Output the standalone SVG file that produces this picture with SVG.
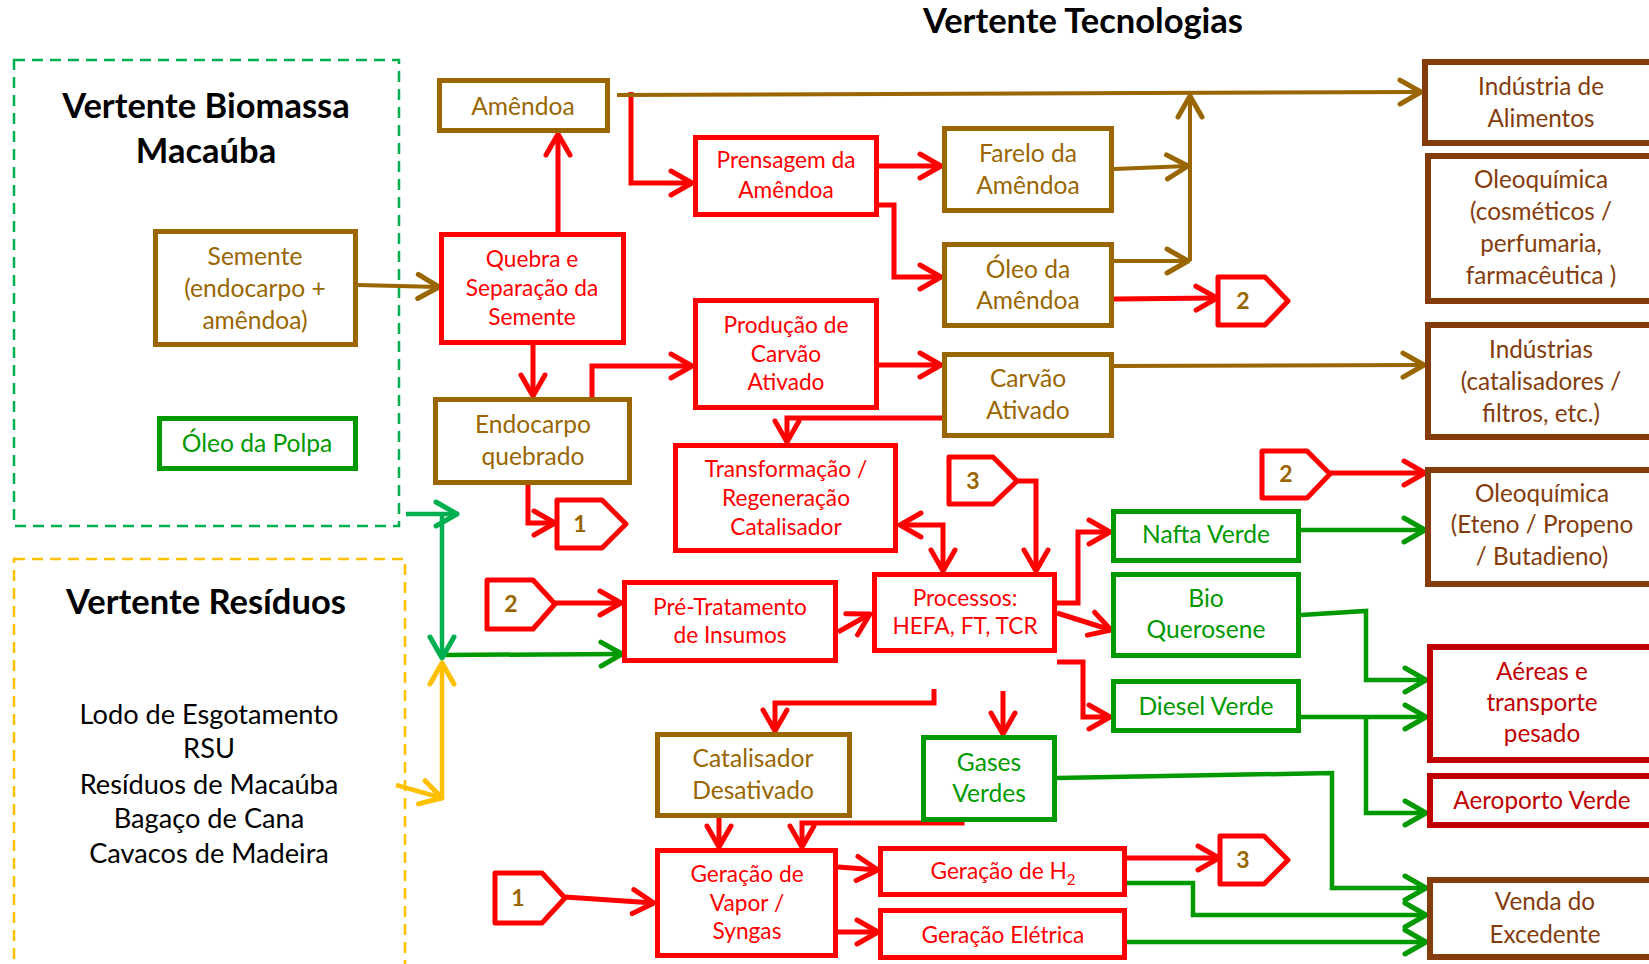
<svg xmlns="http://www.w3.org/2000/svg" width="1649" height="964" viewBox="0 0 1649 964">
<defs>
<style>
.bx{fill:#fff;stroke-width:5}
.bR{stroke-width:6}
.r{stroke:#FF0000}.b{stroke:#996600}.g{stroke:#009900}.br{stroke:#843C0C}.dr{stroke:#C00000}
text{font-family:Lato,'Liberation Sans',sans-serif;text-anchor:middle}
.tr{fill:#FF0000;font-size:22.7px}
.tb{fill:#996600;font-size:24.6px}
.tg{fill:#009900;font-size:24.6px}
.tbr{fill:#843C0C;font-size:24.3px}
.tdr{fill:#C00000;font-size:24.3px}
.hd{fill:#000;font-size:34.5px;font-weight:bold}
.lst{fill:#000;font-size:27.2px}
.tag{fill:#fff;stroke:#FF0000;stroke-width:5;stroke-linejoin:round}
.tn{fill:#996600;font-size:23px;font-weight:bold}
.c{fill:none;stroke-width:5;stroke-linejoin:miter}
.cr{stroke:#FF0000;marker-end:url(#aR)}
.cb{stroke:#996600;stroke-width:4;marker-end:url(#aB)}
.cg{stroke:#009900;stroke-width:4.5;marker-end:url(#aG)}
.cl{stroke:#00B050;stroke-width:4.5;marker-end:url(#aL)}
.cy{stroke:#FFC000;stroke-width:4.5;marker-end:url(#aY)}
</style>
<marker id="aR" markerUnits="userSpaceOnUse" markerWidth="30" markerHeight="32" viewBox="-26 -16 30 32" refX="0" refY="0" orient="auto-start-reverse"><path d="M-21,-12 L0,0 L-21,12" fill="none" stroke="#FF0000" stroke-width="5" stroke-linecap="round" stroke-linejoin="round"/></marker>
<marker id="aB" markerUnits="userSpaceOnUse" markerWidth="30" markerHeight="32" viewBox="-26 -16 30 32" refX="0" refY="0" orient="auto-start-reverse"><path d="M-21,-12 L0,0 L-21,12" fill="none" stroke="#996600" stroke-width="5" stroke-linecap="round" stroke-linejoin="round"/></marker>
<marker id="aG" markerUnits="userSpaceOnUse" markerWidth="30" markerHeight="32" viewBox="-26 -16 30 32" refX="0" refY="0" orient="auto-start-reverse"><path d="M-21,-12 L0,0 L-21,12" fill="none" stroke="#009900" stroke-width="5" stroke-linecap="round" stroke-linejoin="round"/></marker>
<marker id="aL" markerUnits="userSpaceOnUse" markerWidth="30" markerHeight="32" viewBox="-26 -16 30 32" refX="0" refY="0" orient="auto-start-reverse"><path d="M-21,-12 L0,0 L-21,12" fill="none" stroke="#00B050" stroke-width="5" stroke-linecap="round" stroke-linejoin="round"/></marker>
<marker id="aY" markerUnits="userSpaceOnUse" markerWidth="30" markerHeight="32" viewBox="-26 -16 30 32" refX="0" refY="0" orient="auto-start-reverse"><path d="M-21,-12 L0,0 L-21,12" fill="none" stroke="#FFC000" stroke-width="5" stroke-linecap="round" stroke-linejoin="round"/></marker>
</defs>
<rect width="1649" height="964" fill="#fff"/>

<g id="region-biomassa">
<rect x="14" y="60" width="385" height="466" fill="none" stroke="#00B050" stroke-width="2.5" stroke-dasharray="11 7"/>
<text class="hd"><tspan x="206" y="118">Vertente Biomassa</tspan><tspan x="206" y="163">Macaúba</tspan></text>
</g>
<g id="region-residuos">
<rect x="14" y="559" width="391" height="430" fill="none" stroke="#FFC000" stroke-width="2.5" stroke-dasharray="11 7"/>
<text class="hd" x="206" y="614">Vertente Resíduos</text>
<text class="lst"><tspan x="209" y="724">Lodo de Esgotamento</tspan><tspan x="209" y="758">RSU</tspan><tspan x="209" y="794">Resíduos de Macaúba</tspan><tspan x="209" y="828">Bagaço de Cana</tspan><tspan x="209" y="863">Cavacos de Madeira</tspan></text>
</g>
<text id="title" class="hd" x="1083" y="33">Vertente Tecnologias</text>

<g id="connectors">
<path class="c cr" d="M631,92 L631,183 L692,183"/>
<path class="c cb" d="M617,95 L1421,92"/>
<path class="c cb" d="M358,285 L439,287"/>
<path class="c cb" d="M1114,169 L1188,166"/>
<path class="c cb" d="M1114,261 L1188,261"/>
<path class="c cb" d="M1190,261 L1190,96"/>
<path class="c cb" d="M1114,366 L1424,365"/>
<path class="c cr" d="M558,232 L558,134"/>
<path class="c cr" d="M533,345 L533,396"/>
<path class="c cr" d="M592,397 L592,366 L692,366"/>
<path class="c cr" d="M528,478 L528,523 L555,523"/>
<path class="c cr" d="M879,166 L941,166"/>
<path class="c cr" d="M879,205 L894,205 L894,277 L941,277"/>
<path class="c cr" d="M879,365 L941,365"/>
<path class="c cr" d="M1114,299 L1217,298"/>
<path class="c cr" d="M942,418 L787,418 L787,442"/>
<path class="c cr" d="M900,525 L943,525 L943,571" marker-start="url(#aR)"/>
<path class="c cr" d="M1017,481 L1036,481 L1036,571"/>
<path class="c cr" d="M555,603 L621,603"/>
<path class="c cr" d="M838,632 L870,614"/>
<path class="c cr" d="M1057,603 L1078,603 L1078,532 L1110,532"/>
<path class="c cr" d="M1057,613 L1111,630"/>
<path class="c cr" d="M1057,662 L1083,662 L1083,717 L1110,717"/>
<path class="c cr" d="M934,689 L934,703 L775,703 L775,731"/>
<path class="c cr" d="M1003,691 L1003,734"/>
<path class="c cr" d="M719,818 L719,847"/>
<path class="c cr" d="M962,812 L962,823 L802,823 L802,847"/>
<path class="c cr" d="M565,897 L654,903"/>
<path class="c cr" d="M838,867 L878,870"/>
<path class="c cr" d="M838,932 L878,932"/>
<path class="c cr" d="M1127,858 L1219,858"/>
<path class="c cr" d="M1330,473 L1425,473"/>
<path class="c cg" d="M1301,530 L1425,530"/>
<path class="c cg" d="M1301,615 L1366,611 L1366,680 L1426,680"/>
<path class="c cg" d="M1301,717 L1426,717"/>
<path class="c cg" d="M1366,717 L1366,813 L1426,813"/>
<path class="c cg" d="M1057,778 L1332,773 L1332,888 L1426,888"/>
<path class="c cg" d="M1127,883 L1193,883 L1193,915 L1426,915"/>
<path class="c cg" d="M1127,942 L1426,942"/>
<path class="c cg" d="M442,655 L622,654"/>
<path class="c cl" d="M406,514 L457,514"/>
<path class="c cl" d="M442,514 L442,658"/>
<path class="c cy" d="M396,785 L442,798"/>
<path class="c cy" d="M442,798 L442,663"/>
</g>

<g id="n-amendoa"><rect class="bx b" x="439.5" y="80.5" width="168" height="50"/><text class="tb" x="523" y="115">Amêndoa</text></g>
<g id="n-semente"><rect class="bx b" x="155.5" y="231.5" width="200" height="113"/><text class="tb"><tspan x="255" y="265">Semente</tspan><tspan x="255" y="297">(endocarpo +</tspan><tspan x="255" y="329">amêndoa)</tspan></text></g>
<g id="n-oleo-polpa"><rect class="bx g" x="159.5" y="418.5" width="196" height="50"/><text class="tg" x="257" y="452">Óleo da Polpa</text></g>
<g id="n-quebra"><rect class="bx r" x="441.5" y="234.5" width="182" height="108"/><text class="tr"><tspan x="532" y="267">Quebra e</tspan><tspan x="532" y="296">Separação da</tspan><tspan x="532" y="325">Semente</tspan></text></g>
<g id="n-endocarpo"><rect class="bx b" x="435.5" y="399.5" width="194" height="83"/><text class="tb"><tspan x="533" y="433">Endocarpo</tspan><tspan x="533" y="465">quebrado</tspan></text></g>
<g id="n-prensagem"><rect class="bx r" x="695.5" y="137.5" width="181" height="77"/><text class="tr"><tspan x="786" y="168">Prensagem da</tspan><tspan x="786" y="198">Amêndoa</tspan></text></g>
<g id="n-producao"><rect class="bx r" x="695.5" y="300.5" width="181" height="107"/><text class="tr"><tspan x="786" y="333">Produção de</tspan><tspan x="786" y="362">Carvão</tspan><tspan x="786" y="390">Ativado</tspan></text></g>
<g id="n-farelo"><rect class="bx b" x="944.5" y="128.5" width="167" height="82"/><text class="tb"><tspan x="1028" y="162">Farelo da</tspan><tspan x="1028" y="194">Amêndoa</tspan></text></g>
<g id="n-oleo-amendoa"><rect class="bx b" x="944.5" y="244.5" width="167" height="81"/><text class="tb"><tspan x="1028" y="278">Óleo da</tspan><tspan x="1028" y="309">Amêndoa</tspan></text></g>
<g id="n-carvao"><rect class="bx b" x="944.5" y="354.5" width="167" height="81"/><text class="tb"><tspan x="1028" y="387">Carvão</tspan><tspan x="1028" y="419">Ativado</tspan></text></g>
<g id="n-transformacao"><rect class="bx r" x="675.5" y="445.5" width="220" height="105"/><text class="tr"><tspan x="786" y="477">Transformação /</tspan><tspan x="786" y="506">Regeneração</tspan><tspan x="786" y="535">Catalisador</tspan></text></g>
<g id="n-pretratamento"><rect class="bx r" x="624.5" y="582.5" width="211" height="78"/><text class="tr"><tspan x="730" y="615">Pré-Tratamento</tspan><tspan x="730" y="643">de Insumos</tspan></text></g>
<g id="n-processos"><rect class="bx r" x="874.5" y="574.5" width="180" height="76"/><text class="tr"><tspan x="965" y="606">Processos:</tspan><tspan x="965" y="634">HEFA, FT, TCR</tspan></text></g>
<g id="n-nafta"><rect class="bx g" x="1113.5" y="511.5" width="185" height="49"/><text class="tg" x="1206" y="543">Nafta Verde</text></g>
<g id="n-bioquerosene"><rect class="bx g" x="1113.5" y="574.5" width="185" height="81"/><text class="tg"><tspan x="1206" y="607">Bio</tspan><tspan x="1206" y="638">Querosene</tspan></text></g>
<g id="n-diesel"><rect class="bx g" x="1113.5" y="681.5" width="185" height="49"/><text class="tg" x="1206" y="715">Diesel Verde</text></g>
<g id="n-catalisador-desativado"><rect class="bx b" x="657.5" y="734.5" width="192" height="81"/><text class="tb"><tspan x="753" y="767">Catalisador</tspan><tspan x="753" y="799">Desativado</tspan></text></g>
<g id="n-gases"><rect class="bx g" x="923.5" y="737.5" width="131" height="82"/><text class="tg"><tspan x="989" y="771">Gases</tspan><tspan x="989" y="802">Verdes</tspan></text></g>
<g id="n-vapor"><rect class="bx r" x="657.5" y="850.5" width="178" height="105"/><text class="tr"><tspan x="747" y="882">Geração de</tspan><tspan x="747" y="911">Vapor /</tspan><tspan x="747" y="939">Syngas</tspan></text></g>
<g id="n-h2"><rect class="bx r" x="880.5" y="848.5" width="244" height="46"/><text class="tr" x="1003" y="879">Geração de H<tspan font-size="15" dy="6">2</tspan></text></g>
<g id="n-eletrica"><rect class="bx r" x="880.5" y="910.5" width="244" height="47"/><text class="tr" x="1003" y="943">Geração Elétrica</text></g>

<g id="n-alimentos"><rect class="bx bR br" x="1425" y="62" width="245" height="81"/><text class="tbr"><tspan x="1541" y="95">Indústria de</tspan><tspan x="1541" y="127">Alimentos</tspan></text></g>
<g id="n-oleoquimica-cosm"><rect class="bx bR br" x="1428" y="156" width="242" height="145"/><text class="tbr"><tspan x="1541" y="188">Oleoquímica</tspan><tspan x="1541" y="220">(cosméticos /</tspan><tspan x="1541" y="252">perfumaria,</tspan><tspan x="1541" y="284">farmacêutica )</tspan></text></g>
<g id="n-industrias"><rect class="bx bR br" x="1428" y="325" width="242" height="112"/><text class="tbr"><tspan x="1541" y="358">Indústrias</tspan><tspan x="1541" y="390">(catalisadores /</tspan><tspan x="1541" y="422">filtros, etc.)</tspan></text></g>
<g id="n-oleoquimica-eteno"><rect class="bx bR br" x="1428" y="470" width="242" height="114"/><text class="tbr"><tspan x="1542" y="502">Oleoquímica</tspan><tspan x="1542" y="533">(Eteno / Propeno</tspan><tspan x="1542" y="565">/ Butadieno)</tspan></text></g>
<g id="n-aereas"><rect class="bx bR dr" x="1430" y="647" width="240" height="113"/><text class="tdr"><tspan x="1542" y="680">Aéreas e</tspan><tspan x="1542" y="711">transporte</tspan><tspan x="1542" y="742">pesado</tspan></text></g>
<g id="n-aeroporto"><rect class="bx bR dr" x="1430" y="776" width="240" height="49"/><text class="tdr" x="1542" y="809">Aeroporto Verde</text></g>
<g id="n-venda"><rect class="bx bR br" x="1430" y="880" width="240" height="77"/><text class="tbr"><tspan x="1545" y="910">Venda do</tspan><tspan x="1545" y="943">Excedente</tspan></text></g>

<g id="tag-1a"><polygon class="tag" points="557,500 602,500 626,524 602,548 557,548"/><text class="tn" x="580" y="532">1</text></g>
<g id="tag-2a"><polygon class="tag" points="1218,277 1265,277 1288,301 1265,325 1218,325"/><text class="tn" x="1243" y="309">2</text></g>
<g id="tag-3a"><polygon class="tag" points="949,457 993,457 1017,481 993,504 949,504"/><text class="tn" x="973" y="489">3</text></g>
<g id="tag-2b"><polygon class="tag" points="1262,451 1307,451 1330,474 1307,498 1262,498"/><text class="tn" x="1286" y="482">2</text></g>
<g id="tag-2c"><polygon class="tag" points="487,580 533,580 555,604 533,629 487,629"/><text class="tn" x="511" y="612">2</text></g>
<g id="tag-1b"><polygon class="tag" points="495,873 542,873 565,898 542,923 495,923"/><text class="tn" x="518" y="906">1</text></g>
<g id="tag-3b"><polygon class="tag" points="1220,836 1264,836 1288,860 1264,884 1220,884"/><text class="tn" x="1243" y="868">3</text></g>
</svg>
